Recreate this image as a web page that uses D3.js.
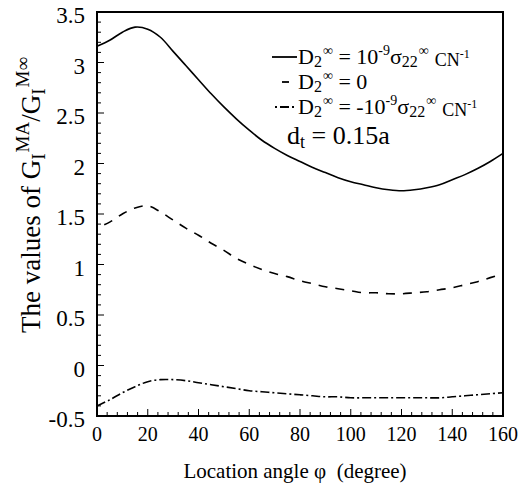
<!DOCTYPE html>
<html><head><meta charset="utf-8">
<script src="https://cdn.jsdelivr.net/npm/d3@7/dist/d3.min.js"></script>
<style>body{margin:0;background:#fff}svg{display:block}</style>
</head><body>
<svg id="c" width="520" height="490"></svg>
<script>
const phi = [0,5,10,15,20,25,30,35,40,45,50,55,60,65,70,75,80,85,90,95,100,105,110,115,120,125,130,135,140,145,150,155,160];
const seriesPos = [3.16,3.22,3.30,3.35,3.33,3.25,3.11,2.97,2.83,2.69,2.56,2.44,2.33,2.23,2.15,2.08,2.02,1.96,1.91,1.86,1.82,1.79,1.76,1.74,1.73,1.74,1.76,1.79,1.84,1.89,1.95,2.02,2.10];
const seriesZero = [1.36,1.42,1.50,1.56,1.58,1.52,1.44,1.36,1.29,1.21,1.14,1.06,1.00,0.95,0.91,0.88,0.84,0.81,0.78,0.76,0.74,0.72,0.72,0.71,0.71,0.72,0.73,0.75,0.77,0.80,0.83,0.87,0.91];
const seriesNeg = [-0.40,-0.34,-0.27,-0.21,-0.16,-0.14,-0.14,-0.15,-0.17,-0.19,-0.21,-0.23,-0.25,-0.26,-0.27,-0.28,-0.29,-0.30,-0.31,-0.31,-0.32,-0.32,-0.32,-0.32,-0.32,-0.32,-0.32,-0.32,-0.31,-0.30,-0.29,-0.28,-0.27];
const xTickLabels = [0,20,40,60,80,100,120,140,160];
const yTickLabels = [-0.5,0,0.5,1,1.5,2,2.5,3,3.5];

const FONT = "'Liberation Serif','Times New Roman',serif";
const svg = d3.select('#c').attr('font-family', FONT);
const L = 97, R = 503, T = 12, B = 416;
const x = d3.scaleLinear().domain([0,160]).range([L,R]);
const y = d3.scaleLinear().domain([-0.5,3.5]).range([B,T]);

// minor / major ticks (inward, left and bottom only)
const g = svg.append('g');
const xMinor = d3.range(0,161,4);
g.selectAll('.xm').data(xMinor).enter().append('line')
  .attr('x1', d=>x(d)).attr('x2', d=>x(d))
  .attr('y1', B).attr('y2', d=> B - (d%20===0 ? 7 : 4))
  .attr('stroke','#000').attr('stroke-width',1);
const yMinor = d3.range(-5,36,1).map(d=>d/10);
g.selectAll('.ym').data(yMinor).enter().append('line')
  .attr('y1', d=>y(d)).attr('y2', d=>y(d))
  .attr('x1', L).attr('x2', d=> L + ((Math.round(d*10)%5===0) ? 7 : 4))
  .attr('stroke','#000').attr('stroke-width',1);

// tick labels
svg.selectAll('.xl').data(xTickLabels).enter().append('text')
  .attr('x', d=>x(d)).attr('y', 441).attr('text-anchor','middle')
  .attr('font-size', 20).text(d=>d);
svg.selectAll('.yl').data(yTickLabels).enter().append('text')
  .attr('x', 85).attr('y', d=>y(d)+11).attr('text-anchor','end')
  .attr('font-size', 23).text(d=>d);

// curves
const line = d3.line().x((d,i)=>x(phi[i])).y(d=>y(d)).curve(d3.curveCatmullRom);
svg.append('path').attr('d', line(seriesPos)).attr('fill','none').attr('stroke','#000').attr('stroke-width',1.6);
svg.append('path').attr('d', line(seriesZero)).attr('fill','none').attr('stroke','#000').attr('stroke-width',1.6)
  .attr('stroke-dasharray','9,8').attr('stroke-dashoffset', 9);
svg.append('path').attr('d', line(seriesNeg)).attr('fill','none').attr('stroke','#000').attr('stroke-width',1.6)
  .attr('stroke-dasharray','9,3,2,3');

// frame
svg.append('rect').attr('x',L).attr('y',T).attr('width',R-L).attr('height',B-T)
  .attr('fill','none').attr('stroke','#000').attr('stroke-width',2);

function rich(sel, segs){
  let prev = 0;
  segs.forEach(s=>{
    const sh = s.shift||0;
    const ts = sel.append('tspan').attr('font-size', s.size).attr('dy', sh-prev).text(s.t);
    if (s.dx) ts.attr('dx', s.dx);
    prev = sh;
  });
}
// separate text pieces laid out left to right (for legend formulas)
function richRow(x0, y0, segs){
  let cx = x0;
  const grp = svg.append('g');
  segs.forEach(s=>{
    cx += (s.dx||0);
    const t = grp.append('text').attr('x', cx).attr('y', y0 + (s.shift||0))
      .attr('font-size', s.size).style('white-space','pre').text(s.t);
    cx += t.node().getComputedTextLength();
  });
}

// axis titles
const xt = svg.append('text').attr('x', 295).attr('y', 478).attr('text-anchor','middle').attr('font-size',21);
rich(xt, [{t:'Location angle \u03c6\u00a0 (degree)', size:21}]);

const yt = svg.append('text').attr('transform','translate(40,195) rotate(-90)').attr('text-anchor','middle').attr('font-size',27);
rich(yt, [
  {t:'The values of G', size:27},
  {t:'I', size:19, shift:5},
  {t:'MA', size:19, shift:-11, dx:1},
  {t:'/G', size:27, shift:0},
  {t:'I', size:19, shift:5},
  {t:'M\u221e', size:19, shift:-11, dx:1}
]);

// legend
const lx = 298;
const legendRows = [
  {y:64, dash:null, x1:272, x2:297, segs:[
    {t:'D',size:22},{t:'2',size:16,shift:3},{t:'\u221e',size:14,shift:-9,dx:1},{t:' = 10',size:22},
    {t:'-9',size:14,shift:-9},{t:'\u03c3',size:22},{t:'22',size:16,shift:3},{t:'\u221e',size:14,shift:-9,dx:1},
    {t:'CN',size:18,shift:2,dx:6},{t:'-1',size:12,shift:-6}]},
  {y:89, dash:'7,100', x1:282, x2:289, segs:[
    {t:'D',size:22},{t:'2',size:16,shift:3},{t:'\u221e',size:14,shift:-9,dx:1},{t:' = 0',size:22}]},
  {y:114, dash:'2,3,9,3,2,100', x1:275, x2:294, segs:[
    {t:'D',size:22},{t:'2',size:16,shift:3},{t:'\u221e',size:14,shift:-9,dx:1},{t:' = -10',size:22},
    {t:'-9',size:14,shift:-9},{t:'\u03c3',size:22},{t:'22',size:16,shift:3},{t:'\u221e',size:14,shift:-9,dx:1},
    {t:'CN',size:18,shift:2,dx:6},{t:'-1',size:12,shift:-6}]}
];
legendRows.forEach(r=>{
  const ln = svg.append('line').attr('x1', r.x1).attr('x2', r.x2).attr('y1', r.y-7).attr('y2', r.y-7)
    .attr('stroke','#000').attr('stroke-width',1.8);
  if (r.dash) ln.attr('stroke-dasharray', r.dash);
  richRow(lx, r.y, r.segs);
});
richRow(287, 144, [{t:'d',size:26},{t:'t',size:18,shift:4},{t:' = 0.15a',size:26}]);
</script>
</body></html>
